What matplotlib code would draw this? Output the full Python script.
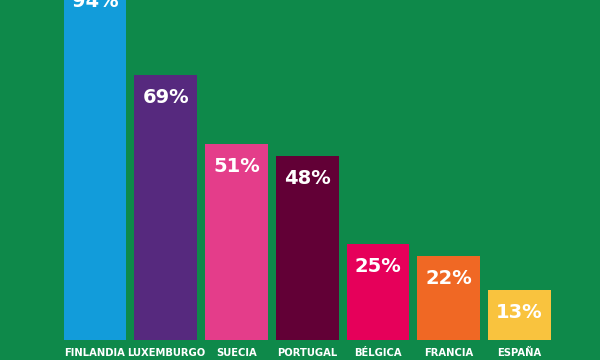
import matplotlib
matplotlib.use("Agg")
import matplotlib.pyplot as plt

categories = ["FINLANDIA", "LUXEMBURGO", "SUECIA", "PORTUGAL", "BÉLGICA", "FRANCIA", "ESPAÑA"]
values = [94, 69, 51, 48, 25, 22, 13]
colors = ["#129CDA", "#56297E", "#E43D8A", "#620036", "#E6005A", "#F06824", "#F9C33E"]
bg = "#0E894A"

fig = plt.figure(figsize=(6, 3.6), dpi=100, facecolor=bg)
ax = fig.add_axes([0, 20/360, 1, 340/360])
ax.set_facecolor(bg)
x = list(range(len(categories)))
ax.bar(x, values, width=0.89, color=colors)
ax.set_xlim(-95/70.75, (600-95)/70.75)
ax.set_ylim(0, 340/3.84)
for s in ax.spines.values():
    s.set_visible(False)
ax.set_yticks([])
ax.set_xticks(x)
ax.set_xticklabels(categories)
ax.tick_params(axis="x", length=0, pad=6, labelsize=7.2, labelcolor="white")
for lab in ax.get_xticklabels():
    lab.set_fontweight("bold")

for xi, v in zip(x, values):
    ax.annotate(f"{v}%", (xi, v), xytext=(0, -13), textcoords="offset pixels",
                ha="center", va="top", color="white", fontsize=14,
                fontweight="bold", annotation_clip=False)

fig.savefig("out.png", dpi=100, facecolor=bg)
